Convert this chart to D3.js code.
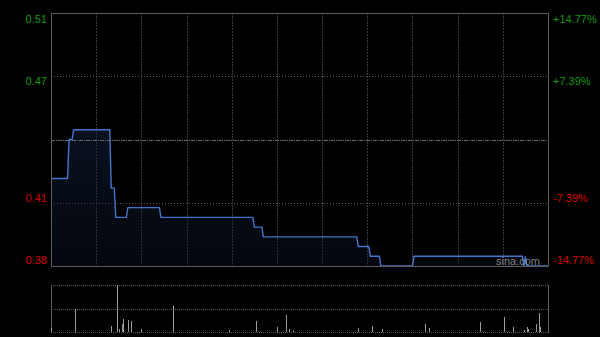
<!DOCTYPE html>
<html>
<head>
<meta charset="utf-8">
<script src="https://cdn.jsdelivr.net/npm/d3@7"></script>
<style>
  html, body { margin: 0; padding: 0; background: #000; }
  svg { display: block; }
</style>
</head>
<body>
<svg width="600" height="337"></svg>
<script>
var svg = d3.select("svg");

var width = 600,
    height = 337;

// minutes since open (HK session, 330 trading minutes) and price
var priceMinutes = [0, 11, 12, 14, 15, 39, 40, 42, 43, 50, 51, 72, 73, 134, 135, 140, 141,
    203, 204, 211, 212, 218, 219, 240, 241, 313, 314, 315, 316, 330];
var priceValues = [0.42, 0.42, 0.44, 0.44, 0.445, 0.445, 0.415, 0.415, 0.40, 0.40, 0.405, 0.405, 0.40,
    0.40, 0.395, 0.395, 0.39, 0.39, 0.385, 0.385, 0.38, 0.38, 0.375, 0.375, 0.38, 0.38, 0.375,
    0.38, 0.375, 0.375];

var volMinutes = [0, 16, 40, 44, 45, 47, 48, 51, 53, 60, 81, 118, 136, 150, 156, 158, 161,
    204, 213, 220, 248, 251, 285, 301, 307, 314, 316, 317, 322, 324, 325];
var volValues = [40, 230, 60, 470, 30, 80, 130, 120, 110, 30, 260, 20, 110, 50, 170, 30, 15,
    40, 60, 30, 80, 40, 100, 150, 50, 20, 50, 30, 80, 190, 50];

var prevClose = 0.44;
var maxPct = 0.1477;
var leftTicks = [0.51, 0.47, 0.41, 0.38];
var rightTicks = ["+14.77%", "+7.39%", "-7.39%", "-14.77%"];
var TOTAL_MIN = 330;

var GREEN = "#139913";
var RED = "#d40000";
var LINECOLOR = "#4574cc";

var plot = { left: 51, right: 548, top: 13, bottom: 266 };
var vplot = { top: 285, bottom: 332 };

var x = d3.scaleLinear().domain([0, TOTAL_MIN]).range([plot.left, plot.right]);
var y = d3.scaleLinear()
    .domain([prevClose * (1 - maxPct), prevClose * (1 + maxPct)])
    .range([plot.bottom, plot.top]);
var yv = d3.scaleLinear().domain([0, d3.max(volValues)]).range([vplot.bottom, vplot.top]);

var points = priceMinutes.map(function (m, i) { return { m: m, p: priceValues[i] }; });

// gradient for area
var defs = svg.append("defs");
var grad = defs.append("linearGradient")
    .attr("id", "areaGrad")
    .attr("gradientUnits", "userSpaceOnUse")
    .attr("x1", 0).attr("y1", plot.top)
    .attr("x2", 0).attr("y2", plot.bottom);
grad.append("stop").attr("offset", "0%").attr("stop-color", "#1c3563").attr("stop-opacity", 0.55);
grad.append("stop").attr("offset", "100%").attr("stop-color", "#0c1526").attr("stop-opacity", 0.35);

// vertical grid, main and volume panel
var vlines = d3.range(1, 11).map(function (k) { return k * 30; });
svg.append("g")
    .selectAll("line")
    .data(vlines)
    .enter().append("line")
    .attr("x1", function (d) { return Math.round(x(d)) + 0.5; })
    .attr("x2", function (d) { return Math.round(x(d)) + 0.5; })
    .attr("y1", plot.top)
    .attr("y2", plot.bottom)
    .attr("stroke", "#3a3a3a")
    .attr("stroke-dasharray", "2,1");

// horizontal grid at +-7.39%
svg.append("g")
    .selectAll("line")
    .data([prevClose * (1 + maxPct / 2), prevClose * (1 - maxPct / 2)])
    .enter().append("line")
    .attr("x1", plot.left)
    .attr("x2", plot.right)
    .attr("y1", function (d) { return Math.round(y(d)) + 0.5; })
    .attr("y2", function (d) { return Math.round(y(d)) + 0.5; })
    .attr("stroke", "#5a5a5a")
    .attr("stroke-dasharray", "1,2");

// area + line
var area = d3.area()
    .x(function (d) { return x(d.m); })
    .y0(plot.bottom)
    .y1(function (d) { return y(d.p); });
svg.append("path")
    .datum(points)
    .attr("d", area)
    .attr("fill", "url(#areaGrad)");

// previous close line
svg.append("line")
    .attr("x1", plot.left)
    .attr("x2", plot.right)
    .attr("y1", Math.round(y(prevClose)) + 0.5)
    .attr("y2", Math.round(y(prevClose)) + 0.5)
    .attr("stroke", "#6a6a6a")
    .attr("stroke-dasharray", "4,1,1,1");

var line = d3.line()
    .x(function (d) { return x(d.m); })
    .y(function (d) { return y(d.p); });
svg.append("path")
    .datum(points)
    .attr("d", line)
    .attr("fill", "none")
    .attr("stroke", LINECOLOR)
    .attr("stroke-width", 1.4);

// main frame
svg.append("path")
    .attr("d", "M" + (plot.left + 0.5) + "," + (plot.top + 0.5) +
        "H" + (plot.right + 0.5) + "V" + (plot.bottom + 0.5) +
        "H" + (plot.left + 0.5) + "Z")
    .attr("fill", "none")
    .attr("stroke", "#5c5c5c");

// watermark
svg.append("text")
    .attr("x", 518)
    .attr("y", 265)
    .attr("text-anchor", "middle")
    .attr("font-family", "Liberation Sans, Arial, sans-serif")
    .attr("font-size", 11)
    .attr("fill", "#9a9a9a")
    .attr("fill-opacity", 0.85)
    .text("sina.com");

// left labels
var labelY = [plot.top + 10, y(leftTicks[1]) + 4, y(leftTicks[2]) + 4, plot.bottom - 2];
svg.append("g")
    .selectAll("text")
    .data(leftTicks)
    .enter().append("text")
    .attr("x", 47)
    .attr("y", function (d, i) { return labelY[i]; })
    .attr("text-anchor", "end")
    .attr("font-family", "Liberation Sans, Arial, sans-serif")
    .attr("font-size", 11)
    .attr("fill", function (d) { return d > prevClose ? GREEN : RED; })
    .text(function (d) { return d.toFixed(2); });

svg.append("g")
    .selectAll("text")
    .data(rightTicks)
    .enter().append("text")
    .attr("x", 553)
    .attr("y", function (d, i) { return labelY[i]; })
    .attr("text-anchor", "start")
    .attr("font-family", "Liberation Sans, Arial, sans-serif")
    .attr("font-size", 11)
    .attr("fill", function (d) { return d.charAt(0) === "+" ? GREEN : RED; })
    .text(function (d) { return d; });

// volume panel
var vmid = Math.round((vplot.top + vplot.bottom) / 2) + 0.5;
svg.append("g")
    .selectAll("line")
    .data([vplot.top + 0.5, vmid, vplot.bottom + 0.5])
    .enter().append("line")
    .attr("x1", plot.left)
    .attr("x2", plot.right)
    .attr("y1", function (d) { return d; })
    .attr("y2", function (d) { return d; })
    .attr("stroke", "#5a5a5a")
    .attr("stroke-dasharray", "1,1");

svg.append("g")
    .selectAll("line")
    .data([plot.left + 0.5, plot.right + 0.5])
    .enter().append("line")
    .attr("x1", function (d) { return d; })
    .attr("x2", function (d) { return d; })
    .attr("y1", vplot.top)
    .attr("y2", vplot.bottom + 1)
    .attr("stroke", "#5c5c5c");

svg.append("g")
    .selectAll("line")
    .data(volMinutes.map(function (m, i) { return { m: m, v: volValues[i] }; }))
    .enter().append("line")
    .attr("x1", function (d) { return Math.round(x(d.m)) + 0.5; })
    .attr("x2", function (d) { return Math.round(x(d.m)) + 0.5; })
    .attr("y1", vplot.bottom)
    .attr("y2", function (d) { return yv(d.v); })
    .attr("stroke", "#9a9a9a");
</script>
</body>
</html>
